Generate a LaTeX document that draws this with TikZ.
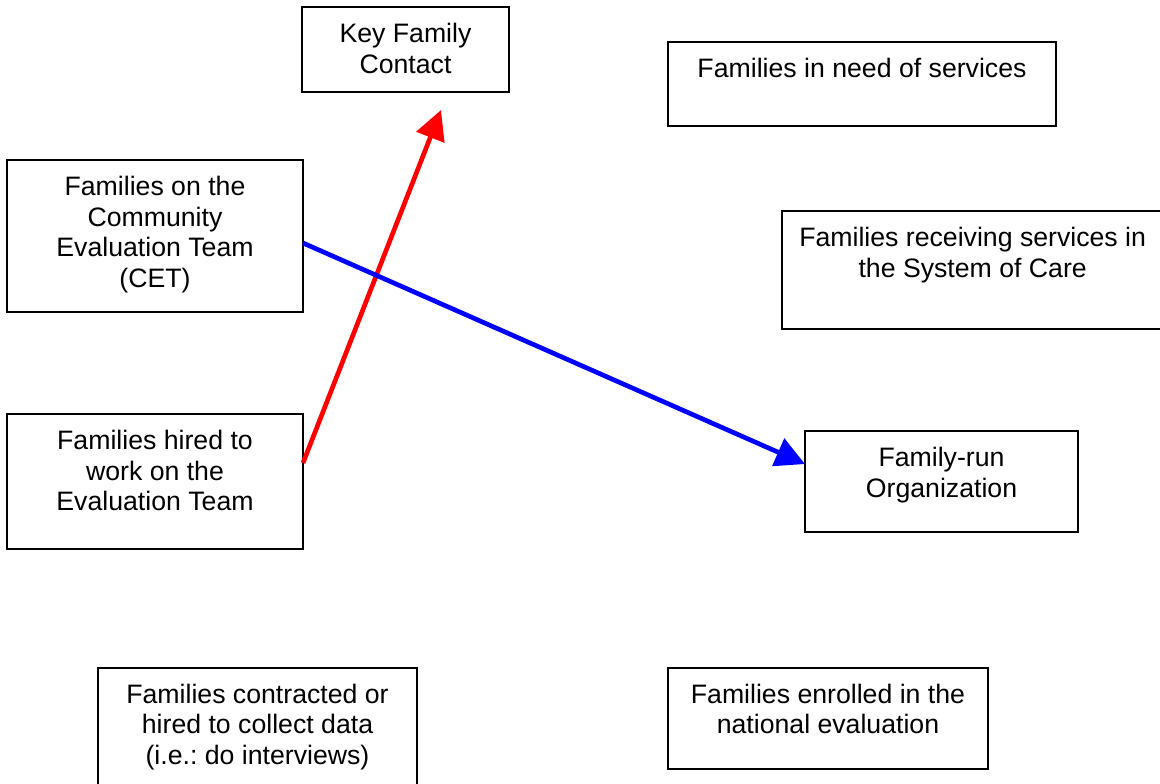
\documentclass[tikz,border=0pt]{standalone}
\usepackage{fontspec}
\setmainfont{Liberation Sans}
\usetikzlibrary{arrows.meta}
\frenchspacing
\begin{document}
\begin{tikzpicture}[x=0.75pt,y=-0.75pt,
  box/.style={draw=black,line width=1.1pt,inner sep=0pt,outer sep=0pt,fill=none},
  txt/.style={inner sep=0pt,outer sep=0pt,align=center,anchor=north,
    font=\frenchspacing\fontsize{20}{22.9}\selectfont},
  redarrow/.style={draw={rgb,255:red,255;green,0;blue,0},line width=3.5pt,
    -{Triangle[length=22pt,width=22pt]}},
  bluearrow/.style={draw={rgb,255:red,0;green,0;blue,255},line width=3.5pt,
    -{Triangle[length=22pt,width=22pt]}}]
\clip (0,0) rectangle (1160,783);
\fill[white] (0,0) rectangle (1160,783);
% boxes
\node[box,minimum width=155.25pt,minimum height=63.75pt] (kfc) at (405.5,49.5) {};
\node[box,minimum width=291pt,minimum height=63pt] (need) at (862,84) {};
\node[box,minimum width=222pt,minimum height=114pt] (cet) at (155,236) {};
\node[box,minimum width=291pt,minimum height=88.5pt] (recv) at (976,270) {};
\node[box,minimum width=222pt,minimum height=101.25pt] (hired) at (155,481.5) {};
\node[box,minimum width=204.75pt,minimum height=75.75pt] (fro) at (941.5,481.5) {};
\node[box,minimum width=239.25pt,minimum height=99pt] (contract) at (257.5,734) {};
\node[box,minimum width=240pt,minimum height=75.75pt] (enrolled) at (828,718.5) {};
% texts
\node[txt] (kfc-t) at ([yshift=-10.6pt]kfc.north) {\strut Key Family\\Contact};
\node[txt] (need-t) at ([yshift=-10.6pt]need.north) {\strut Families in need of services};
\node[txt] (cet-t) at ([yshift=-10.6pt]cet.north) {\strut Families on the\\Community\\Evaluation Team\\(CET)};
\node[txt] (recv-t) at ([xshift=-2.5pt,yshift=-10.6pt]recv.north) {\strut Families receiving services in\\the System of Care};
\node[txt] (hired-t) at ([yshift=-10.6pt]hired.north) {\strut Families hired to\\work on the\\Evaluation Team};
\node[txt] (fro-t) at ([yshift=-10.6pt]fro.north) {\strut Family-run\\Organization};
\node[txt] (contract-t) at ([yshift=-10.3pt]contract.north) {\strut Families contracted or\\hired to collect data\\(i.e.: do interviews)};
\node[txt] (enrolled-t) at ([yshift=-10.3pt]enrolled.north) {\strut Families enrolled in the\\national evaluation};
% connectors
\coordinate (redtip) at (441,110);
\draw[redarrow] ([yshift=13.9pt]hired.east) -- (redtip);
\draw[bluearrow] ([yshift=-5.25pt]cet.east) -- ([yshift=13.1pt]fro.west);
\end{tikzpicture}
\end{document}
